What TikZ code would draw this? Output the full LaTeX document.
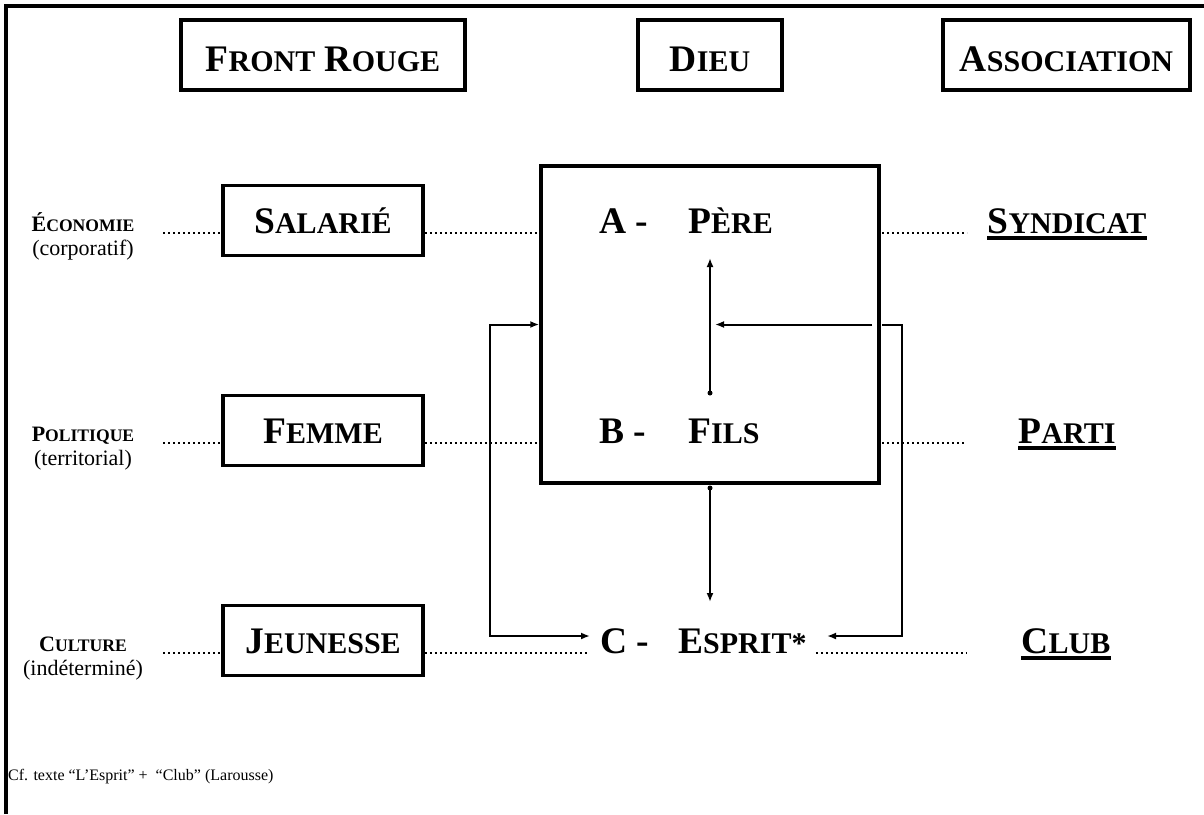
\documentclass[tikz,border=0pt]{standalone}
\usepackage{fontspec}
\setmainfont{Liberation Serif}
\usetikzlibrary{arrows.meta}
\newcommand\bigf{\fontsize{37.5}{40}\selectfont\bfseries}
\newcommand\labf{\fontsize{22}{24}\selectfont}
\newcommand\Bsc[2]{#1{\fontsize{30}{30}\selectfont #2}}
\newcommand\Lsc[2]{#1{\fontsize{17.6}{18}\selectfont #2}}
\begin{document}
\begin{tikzpicture}[x=1pt,y=-1pt,
  hbox/.style={draw, line width=4pt, inner sep=0pt, minimum height=70pt, text height=32pt, text depth=0pt, font=\bigf},
  rbox/.style={draw, line width=3.5pt, inner sep=0pt, minimum width=200pt, minimum height=70pt, text height=25pt, text depth=0pt, font=\bigf},
  txt/.style={inner sep=0pt, font=\bigf, anchor=base west},
  ctxt/.style={inner sep=0pt, font=\bigf, anchor=base, text depth=0pt},
  lab/.style={inner sep=0pt, font=\labf\bfseries, anchor=base},
  labr/.style={inner sep=0pt, font=\labf, anchor=base},
  dots/.style={line width=2pt, dash pattern=on 2pt off 3pt},
  uline/.style={line width=4pt},
  arr/.style={line width=2pt, -{Latex[length=9pt,width=7pt]}},
  darr/.style={line width=2pt, {Latex[length=9pt,width=7pt]}-{Latex[length=9pt,width=7pt]}},
  frame/.style={line width=4pt}
]
\useasboundingbox (0,0) rectangle (1204,814);
% page frame
\draw[frame] (6,814) -- (6,5.5) -- (1204,5.5);

% headings
\node[hbox, minimum width=284pt] (fr) at (323,55) {\Bsc{F}{RONT} \Bsc{R}{OUGE}};
\node[hbox, minimum width=144pt] (dieuh) at (710,55) {\Bsc{D}{IEU}};
\node[hbox, minimum width=247pt] (assoc) at (1066.5,55) {\Bsc{A}{SSOCIATION}};

% left labels
\node[lab] (eco) at (83,231) {\Lsc{É}{CONOMIE}};
\node[labr] (corp) at (83,255) {(corporatif)};
\node[lab] (pol) at (83,441) {\Lsc{P}{OLITIQUE}};
\node[labr] (terr) at (83,465) {(territorial)};
\node[lab] (cult) at (83,651) {\Lsc{C}{ULTURE}};
\node[labr] (indet) at (83,675) {(indéterminé)};

% left boxes
\node[rbox] (sal) at (323,220.5) {\Bsc{S}{ALARIÉ}};
\node[rbox] (fem) at (323,430.5) {\Bsc{F}{EMME}};
\node[rbox] (jeu) at (323,640.5) {\Bsc{J}{EUNESSE}};

% central box
\node[draw, line width=3.5pt, minimum width=338pt, minimum height=317pt, inner sep=0pt] (dieu) at (710,324.5) {};
\node[txt] (a) at (599,233) {A -};
\node[txt] (pere) at (688,233) {\Bsc{P}{ÈRE}};
\node[txt] (b) at (599,443) {B -};
\node[txt] (fils) at (688,443) {\Bsc{F}{ILS}};
\node[txt] (c) at (600,653) {C -};
\node[txt] (esprit) at (678,653) {\Bsc{E}{SPRIT*}};

% right column
\node[ctxt] (syn) at (1067,233) {\Bsc{S}{YNDICAT}};
\node[ctxt] (parti) at (1067,443) {\Bsc{P}{ARTI}};
\node[ctxt] (club) at (1066,653) {\Bsc{C}{LUB}};
\draw[uline] ([yshift=-5pt]syn.south west) -- ([yshift=-5pt]syn.south east);
\draw[uline] ([yshift=-5pt]parti.south west) -- ([yshift=-5pt]parti.south east);
\draw[uline] ([yshift=-5pt]club.south west) -- ([yshift=-5pt]club.south east);

% dotted-line coordinates
\coordinate (l1) at (163,233);
\coordinate (l2) at (163,443);
\coordinate (l3) at (163,653);
\coordinate (r1a) at (882,233);
\coordinate (r1b) at (967,233);
\coordinate (r2a) at (882,443);
\coordinate (r2b) at (965,443);
\coordinate (r3b) at (966,653);

\draw[dots] (l1) -- (l1 -| sal.west);
\draw[dots] (sal.east |- l1) -- (dieu.west |- l1);
\draw[dots] (r1a) -- (r1b);
\draw[dots] (l2) -- (l2 -| fem.west);
\draw[dots] (fem.east |- l2) -- (dieu.west |- l2);
\draw[dots] (r2a) -- (r2b);
\draw[dots] (l3) -- (l3 -| jeu.west);
\draw[dots] (jeu.east |- l3) -- ([xshift=-12pt]c.base west);
\draw[dots] ([xshift=9pt]esprit.base east) -- (r3b);

% arrows
\coordinate (fromB) at (710,393);
\coordinate (toA) at (710,258);
\coordinate (hin) at (872,324.5);
\coordinate (hmid) at (715,324.5);
\coordinate (rout) at (882,324.5);
\coordinate (cin) at (590,636);
\coordinate (ein) at (827,636);
\coordinate (fromBox) at (710,488);
\coordinate (toC) at (710,602);

\draw[arr] (fromB) -- (toA);
\fill (fromB) circle (2.5pt);
\draw[arr] (hin) -- (hmid);
\draw[arr] (rout) -- ++(20,0) |- (ein);
\draw[darr] (dieu.west) -- ++(-49,0) |- (cin);
\draw[arr] (fromBox) -- (toC);
\fill (fromBox) circle (2.5pt);

% footnote
\node[anchor=base west, inner sep=0pt, font=\fontsize{16}{18}\selectfont] (note) at (8,780) {Cf. texte “L’Esprit” +\ \ “Club” (Larousse)};
\end{tikzpicture}
\end{document}
